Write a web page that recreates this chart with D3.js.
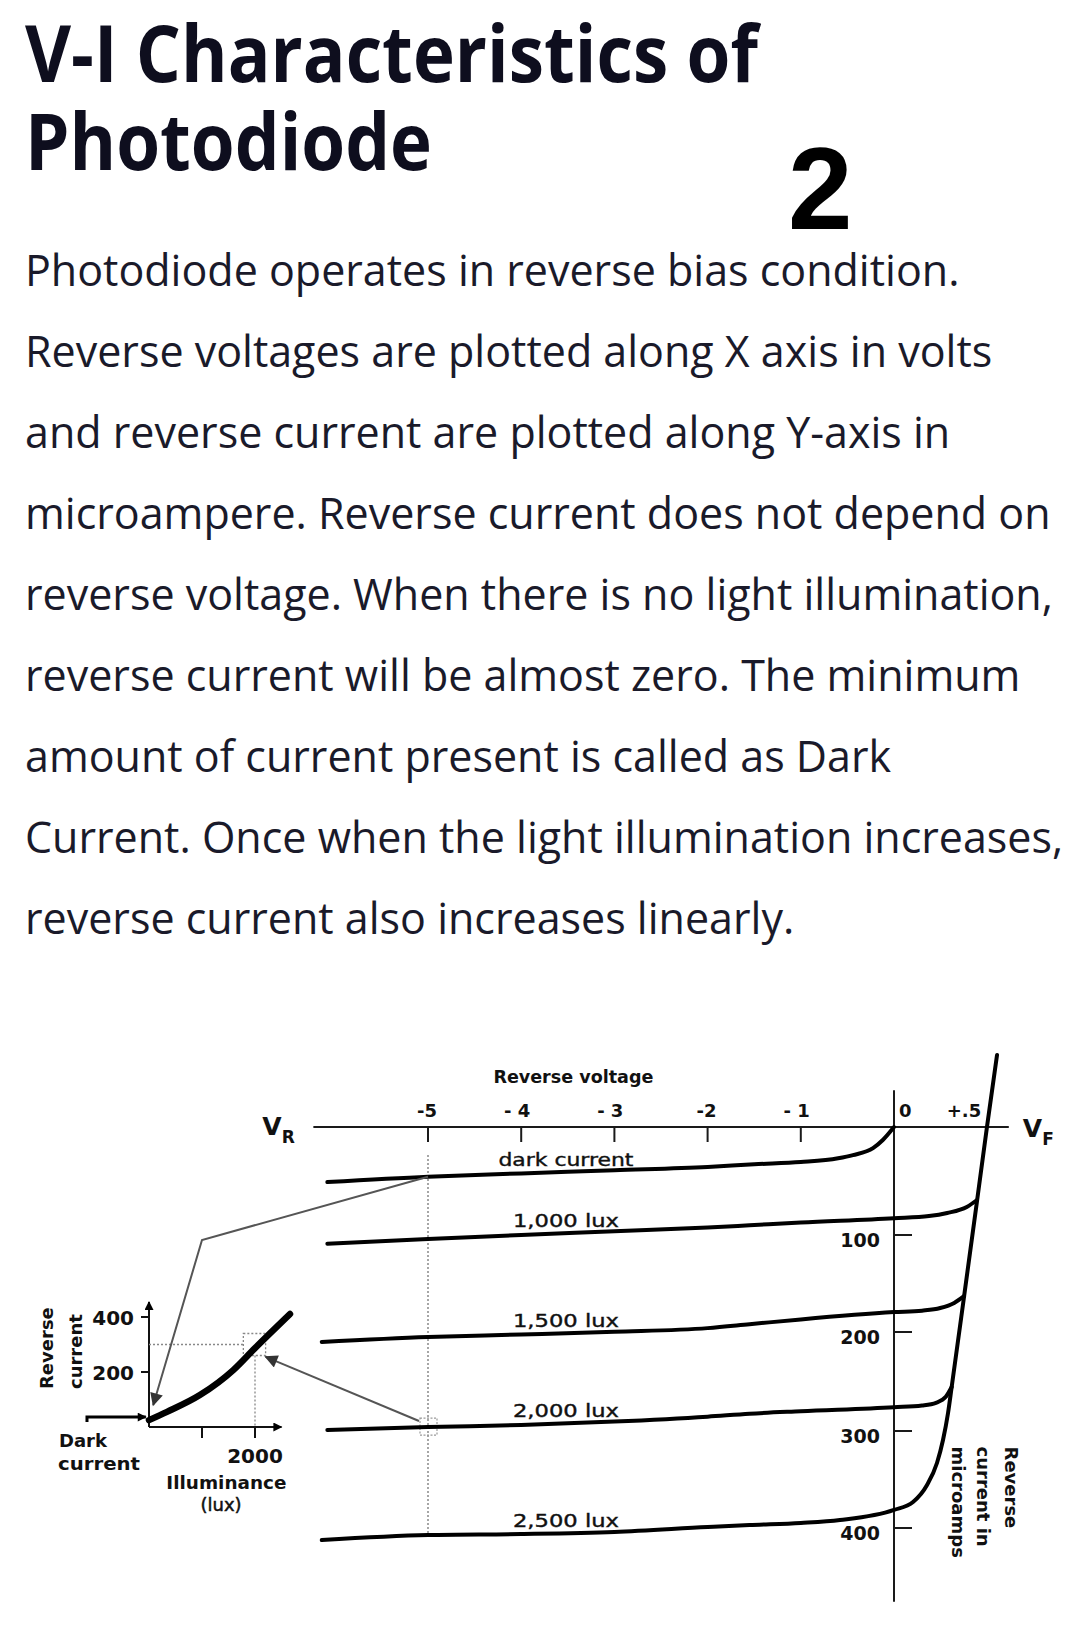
<!DOCTYPE html>
<html><head><meta charset="utf-8">
<script src="https://cdn.jsdelivr.net/npm/d3@7/dist/d3.min.js"></script>
<style>html,body{margin:0;padding:0;background:#fff;}svg{display:block}</style>
</head><body>
<svg id="c" width="1092" height="1650"></svg>
<script>
// ---------------- DATA ----------------
const titleLines = ["V-I Characteristics of", "Photodiode"];
const figureNumber = "2";
const bodyLines = [
  "Photodiode operates in reverse bias condition.",
  "Reverse voltages are plotted along X axis in volts",
  "and reverse current are plotted along Y-axis in",
  "microampere. Reverse current does not depend on",
  "reverse voltage. When there is no light illumination,",
  "reverse current will be almost zero. The minimum",
  "amount of current present is called as Dark",
  "Current. Once when the light illumination increases,",
  "reverse current also increases linearly."
];

// main chart: reverse voltage (V) vs reverse current (µA, plotted downward)
const voltageTicks = [-5, -4, -3, -2, -1];
const voltageTickLabels = ["-5", "- 4", "- 3", "-2", "- 1"];
const currentTicks = [100, 200, 300, 400];
const curveLabels = ["dark current", "1,000 lux", "1,500 lux", "2,000 lux", "2,500 lux"];

const darkCurrent = [[-6.08,51],[-5,46],[-4,43],[-3,40],[-2,37],[-1.5,34.5],[-1,32.5],[-0.6,29],[-0.44,26],[-0.225,19.5],[-0.12,12],[0,0]];
const lux1000 = [[-6.08,109],[-5,104],[-4,100],[-3,96.5],[-2,93],[-1.55,91],[-1,88.5],[0,84.5],[0.25,82.5],[0.38,79.6],[0.52,74],[0.593,67.6]];
const lux1500 = [[-6.14,210],[-5,205],[-4,202.5],[-3,199.7],[-2,196],[-1.55,192],[-1,187],[0,179.5],[0.2,178],[0.33,175.3],[0.43,170],[0.5,163]];
const lux2000 = [[-6.08,299],[-5,296],[-4,294],[-3,290.5],[-2,285.5],[-1.55,282.5],[-1,280],[0,276],[0.2,274.2],[0.3,271.5],[0.37,265.5],[0.412,255.6]];
const lux2500 = [[-6.14,412.4],[-5,407.2],[-4,406.2],[-3,404.1],[-2,399],[-1.55,396.9],[-1,394.8],[-0.58,391.8],[0,381.4],[0.136,373.2],[0.236,355.7],[0.307,333],[0.35,309.3],[0.386,281.8],[0.412,255.6],[0.501,162.9],[0.594,67.6],[0.664,0],[0.736,-66.7]];
const curves = [darkCurrent, lux1000, lux1500, lux2000, lux2500];

// inset: illuminance (lux) vs reverse current
const insetLux = [0, 340, 960, 1590, 2000, 2660];
const insetCurrent = [25, 55, 116, 207, 287, 411];
const insetCurrentTicks = [200, 400];
const insetLuxTicks = [1000, 2000];
const insetLuxTickLabels = ["", "2000"];

// ---------------- LAYOUT ----------------
const W = 1092, H = 1650;
const svg = d3.select("#c");
svg.append("rect").attr("width", W).attr("height", H).attr("fill", "#fff");

const defs = svg.append("defs");
function marker(id, color, len, wid) {
  defs.append("marker").attr("id", id).attr("viewBox", "0 0 10 10")
    .attr("refX", 9).attr("refY", 5).attr("markerUnits", "userSpaceOnUse")
    .attr("markerWidth", len).attr("markerHeight", wid).attr("orient", "auto")
    .append("path").attr("d", "M0,0L10,5L0,10Z").attr("fill", color);
}
marker("arrGray", "#333", 20, 13);
marker("arrBlk", "#000", 11, 9);

// Title
const tg = svg.append("g").attr("font-family", "'Open Sans', sans-serif")
  .attr("font-weight", 700).attr("fill", "#0e0e1e").attr("font-size", 78);
const titleWidths = [733, 407];
titleLines.forEach((t, i) => tg.append("text").attr("x", 25).attr("y", 82 + i * 88)
  .attr("textLength", titleWidths[i]).attr("lengthAdjust", "spacingAndGlyphs").text(t));

svg.append("text").attr("x", 788).attr("y", 229)
  .attr("font-family", "'Liberation Sans', Arial, sans-serif").attr("font-weight", 700)
  .attr("font-size", 116).attr("fill", "#000").text(figureNumber);

// Body text
const bg = svg.append("g").attr("font-family", "'Open Sans', sans-serif")
  .attr("font-size", 43).attr("fill", "#1a1a2a");
bodyLines.forEach((t, i) => bg.append("text").attr("x", 25).attr("y", 286 + i * 81).text(t));

// ---------------- MAIN CHART ----------------
const x = d3.scaleLinear().domain([-5, 0, 0.5]).range([428, 894, 964]);
const y = d3.scaleLinear().domain([0, 100, 200, 300, 400]).range([1127, 1235, 1332, 1431, 1528]);
const g = svg.append("g").attr("font-family", "'DejaVu Sans', sans-serif").attr("font-weight", 700).attr("fill", "#111");

const axisColor = "#1a1a1a";
const xStart = -6.23, xEnd = 0.82;
g.append("line").attr("x1", x(xStart)).attr("x2", x(xEnd)).attr("y1", y(0)).attr("y2", y(0))
  .attr("stroke", axisColor).attr("stroke-width", 2);
g.append("line").attr("x1", x(0)).attr("x2", x(0)).attr("y1", y(-34)).attr("y2", y(476))
  .attr("stroke", axisColor).attr("stroke-width", 2);

voltageTicks.forEach((t, i) => {
  g.append("line").attr("x1", x(t)).attr("x2", x(t)).attr("y1", y(0)).attr("y2", y(0) + 15)
    .attr("stroke", axisColor).attr("stroke-width", 2);
  g.append("text").attr("x", x(t) + 9).attr("y", y(0) - 10).attr("text-anchor", "end")
    .attr("font-size", 18).text(voltageTickLabels[i]);
});
g.append("text").attr("x", x(0) + 5).attr("y", y(0) - 10).attr("font-size", 18).text("0");
g.append("text").attr("x", x(0.5)).attr("y", y(0) - 10).attr("text-anchor", "middle").attr("font-size", 18).text("+.5");
g.append("text").attr("x", x(-3.44)).attr("y", y(0) - 44).attr("text-anchor", "middle")
  .attr("font-size", 18).attr("textLength", 160).attr("lengthAdjust", "spacingAndGlyphs").text("Reverse voltage");

// V_R and V_F
const vr = g.append("text").attr("x", x(xStart) - 51).attr("y", y(0) + 8);
vr.append("tspan").attr("font-size", 25).text("V");
vr.append("tspan").attr("font-size", 17).attr("dy", 8).text("R");
const vf = g.append("text").attr("x", x(xEnd) + 14).attr("y", y(0) + 10);
vf.append("tspan").attr("font-size", 25).text("V");
vf.append("tspan").attr("font-size", 17).attr("dy", 8).text("F");

currentTicks.forEach(t => {
  g.append("line").attr("x1", x(0)).attr("x2", x(0) + 18).attr("y1", y(t)).attr("y2", y(t))
    .attr("stroke", axisColor).attr("stroke-width", 2);
  g.append("text").attr("x", x(0) - 14).attr("y", y(t) + 12).attr("text-anchor", "end")
    .attr("font-size", 19).text(t);
});

// right axis title
const rt = g.append("g").attr("transform", `translate(${x(xEnd) - 4},${y(316)}) rotate(90)`).attr("font-size", 18);
["Reverse", "current in", "microamps"].forEach((t, i) =>
  rt.append("text").attr("x", 0).attr("y", [0, 28, 53][i]).text(t));

// dotted guide at -5 V
g.append("line").attr("x1", x(-5)).attr("x2", x(-5)).attr("y1", y(26)).attr("y2", y(407))
  .attr("stroke", "#777").attr("stroke-width", 1.3).attr("stroke-dasharray", "2,2");
g.append("rect").attr("x", x(-5) - 8).attr("y", y(296) - 9).attr("width", 17).attr("height", 17)
  .attr("fill", "none").attr("stroke", "#999").attr("stroke-width", 1.2).attr("stroke-dasharray", "2,1.5");

// curve labels
const interp = (data, v) => {
  for (let i = 1; i < data.length; i++) {
    if (data[i][0] >= v) {
      const a = data[i - 1], b = data[i];
      return a[1] + (b[1] - a[1]) * (v - a[0]) / (b[0] - a[0]);
    }
  }
  return data[data.length - 1][1];
};
curveLabels.forEach((t, i) => {
  g.append("text").attr("x", x(-3.52)).attr("y", y(interp(curves[i], -3.52)) - 6)
    .attr("text-anchor", "middle").attr("font-size", 18).attr("font-weight", 400)
    .attr("stroke", "#111").attr("stroke-width", 0.4)
    .attr("textLength", i === 0 ? 135 : 106).attr("lengthAdjust", "spacingAndGlyphs").text(t);
});

const line = d3.line().x(d => x(d[0])).y(d => y(d[1])).curve(d3.curveMonotoneX);
curves.forEach(c => g.append("path").attr("d", line(c)).attr("fill", "none")
  .attr("stroke", "#000").attr("stroke-width", 4).attr("stroke-linecap", "round").attr("stroke-linejoin", "round"));

// ---------------- INSET ----------------
const xi = d3.scaleLinear().domain([0, 2000]).range([149, 255]);
const yi = d3.scaleLinear().domain([0, 400]).range([1427, 1317]);
const ig = svg.append("g").attr("font-family", "'DejaVu Sans', sans-serif").attr("font-weight", 700).attr("fill", "#111");

ig.append("line").attr("x1", xi(0)).attr("x2", xi(0)).attr("y1", yi(0)).attr("y2", yi(455))
  .attr("stroke", "#111").attr("stroke-width", 2).attr("marker-end", "url(#arrBlk)");
ig.append("line").attr("x1", xi(0)).attr("x2", xi(2500)).attr("y1", yi(0)).attr("y2", yi(0))
  .attr("stroke", "#111").attr("stroke-width", 2).attr("marker-end", "url(#arrBlk)");
insetCurrentTicks.forEach(t => {
  ig.append("line").attr("x1", xi(0) - 8).attr("x2", xi(0)).attr("y1", yi(t)).attr("y2", yi(t))
    .attr("stroke", "#111").attr("stroke-width", 2);
  ig.append("text").attr("x", xi(0) - 15).attr("y", yi(t) + 8).attr("text-anchor", "end")
    .attr("font-size", 20).text(t);
});
insetLuxTicks.forEach((t, i) => {
  ig.append("line").attr("x1", xi(t)).attr("x2", xi(t)).attr("y1", yi(0)).attr("y2", yi(0) + 11)
    .attr("stroke", "#111").attr("stroke-width", 2);
  ig.append("text").attr("x", xi(t)).attr("y", yi(0) + 36).attr("text-anchor", "middle")
    .attr("font-size", 20).text(insetLuxTickLabels[i]);
});
ig.append("text").attr("x", xi(1460)).attr("y", yi(0) + 62).attr("text-anchor", "middle")
  .attr("font-size", 17).attr("textLength", 120).attr("lengthAdjust", "spacingAndGlyphs").text("Illuminance");
ig.append("text").attr("x", xi(1360)).attr("y", yi(0) + 84).attr("text-anchor", "middle")
  .attr("font-size", 18).attr("font-weight", 400).attr("stroke", "#111").attr("stroke-width", 0.5).text("(lux)");
ig.append("text").attr("x", 59).attr("y", yi(0) + 20).attr("font-size", 18).text("Dark");
ig.append("text").attr("x", 58).attr("y", yi(0) + 43).attr("font-size", 18)
  .attr("textLength", 82).attr("lengthAdjust", "spacingAndGlyphs").text("current");

const lt = ig.append("g").attr("transform", `translate(53,${yi(0) - 38}) rotate(-90)`).attr("font-size", 18);
["Reverse", "current"].forEach((t, i) => lt.append("text").attr("x", 0).attr("y", i * 29).text(t));

// dotted zoom guides
const dot = { stroke: "#888", "stroke-width": 1.3, "stroke-dasharray": "2,2", fill: "none" };
function applyAttrs(sel, o) { Object.entries(o).forEach(([k, v]) => sel.attr(k, v)); return sel; }
applyAttrs(ig.append("line").attr("x1", xi(0)).attr("x2", xi(1780)).attr("y1", yi(300)).attr("y2", yi(300)), dot);
applyAttrs(ig.append("rect").attr("x", xi(1780)).attr("y", yi(340)).attr("width", xi(2200) - xi(1780)).attr("height", yi(260) - yi(340)), dot);
applyAttrs(ig.append("line").attr("x1", xi(2000)).attr("x2", xi(2000)).attr("y1", yi(260)).attr("y2", yi(0)), dot);

// inset curve
const iline = d3.line().x(d => xi(d[0])).y(d => yi(d[1])).curve(d3.curveMonotoneX);
ig.append("path").attr("d", iline(insetLux.map((l, i) => [l, insetCurrent[i]])))
  .attr("fill", "none").attr("stroke", "#000").attr("stroke-width", 6.5).attr("stroke-linecap", "round");

// dark current arrow
ig.append("path").attr("d", `M${xi(-1170)},${yi(18)}V${yi(36)}H${xi(-60)}`)
  .attr("fill", "none").attr("stroke", "#000").attr("stroke-width", 3).attr("marker-end", "url(#arrBlk)");

// gray connector arrows
svg.append("path").attr("d", `M${x(-5)},${y(46)}L${xi(1000)},${yi(680)}L${xi(80)},${yi(80)}`)
  .attr("fill", "none").attr("stroke", "#555").attr("stroke-width", 2).attr("marker-end", "url(#arrGray)");
svg.append("path").attr("d", `M${x(-5) - 9},${y(296) - 6}L${xi(2200)},${yi(255)}`)
  .attr("fill", "none").attr("stroke", "#555").attr("stroke-width", 2).attr("marker-end", "url(#arrGray)");
</script>
</body></html>
